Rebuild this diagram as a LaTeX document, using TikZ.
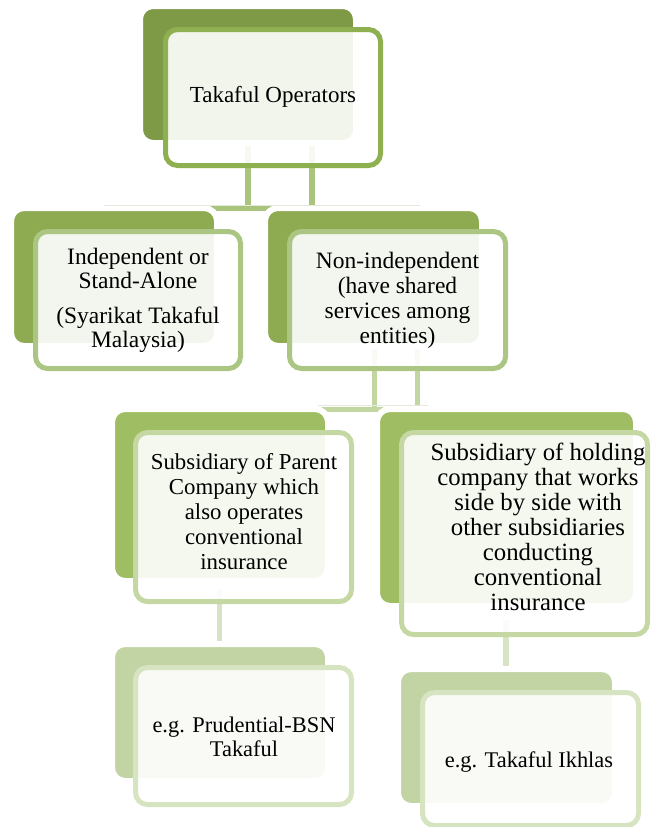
\documentclass[tikz,border=0pt]{standalone}
\usepackage{fontspec}
\setmainfont{Liberation Serif}
\definecolor{backA}{HTML}{7E9A47}
\definecolor{lineA}{HTML}{8FB051}
\definecolor{backB}{HTML}{8EAB52}
\definecolor{lineB}{HTML}{ABC682}
\definecolor{backC}{HTML}{9FBD62}
\definecolor{lineC}{HTML}{C5D8A3}
\definecolor{backD}{HTML}{C2D4A4}
\definecolor{lineD}{HTML}{D7E4C2}
\definecolor{connA}{HTML}{A9C47C}
\definecolor{connB}{HTML}{C2D6A2}
\definecolor{connC}{HTML}{D6E3C4}
\definecolor{ghost}{HTML}{E4E9DB}
\begin{document}
\begin{tikzpicture}[x=1pt,y=-1pt,
  backbox/.style={rectangle, rounded corners=13pt, inner sep=0pt, draw=white, line width=6pt, fill=#1},
  frontbox/.style={rectangle, rounded corners=12pt, inner sep=0pt, draw=#1, line width=5pt, fill=white, fill opacity=0.9},
  conn/.style={line width=5.5pt, draw=#1},
  ghostline/.style={line width=0.8pt, draw=ghost},
  lbl/.style={align=center, text=black, inner sep=0pt}]
\useasboundingbox (0,0) rectangle (652,827);

% connector anchor points
\coordinate (a1) at (248,130);
\coordinate (a2) at (248,208);
\coordinate (a3) at (312,130);
\coordinate (a4) at (312,208);
\coordinate (h1) at (104,208);
\coordinate (h2) at (420,208);
\coordinate (b1) at (374.5,345);
\coordinate (b2) at (374.5,409.5);
\coordinate (b3) at (417.5,345);
\coordinate (b4) at (417.5,409.5);
\coordinate (k1) at (230,409.5);
\coordinate (k2) at (520,409.5);
\coordinate (c1) at (219.5,590);
\coordinate (c2) at (219.5,650);
\coordinate (c3) at (506,620);
\coordinate (c4) at (506,675);

% connectors
\draw[conn=connA] (a1) -- (a2);
\draw[conn=connA] (a3) -- (a4);
\draw[conn=connA] (h1) -- (h2);
\draw[conn=connB] (b1) -- (b2);
\draw[conn=connB] (b3) -- (b4);
\draw[conn=connB] (k1) -- (k2);
\draw[conn=connC] (c1) -- (c2);
\draw[conn=connC] (c3) -- (c4);

% back boxes (white halo of 3pt outside the visible green)
\node[backbox=backA, minimum width=216pt, minimum height=137pt] (r1b) at (248,74.5) {};
\node[backbox=backB, minimum width=206pt, minimum height=138pt] (l2b) at (114,277) {};
\node[backbox=backB, minimum width=217pt, minimum height=138pt] (m2b) at (373.5,277) {};
\node[backbox=backC, minimum width=216pt, minimum height=172pt] (l3b) at (220,495) {};
\node[backbox=backC, minimum width=259pt, minimum height=197pt] (m3b) at (506.5,507.5) {};
\node[backbox=backD, minimum width=216pt, minimum height=137pt] (l4b) at (220,712.5) {};
\node[backbox=backD, minimum width=217pt, minimum height=137pt] (m4b) at (506.5,737.5) {};

% faint residue lines
\coordinate (g1) at (104,205.5);
\coordinate (g2) at (420,205.5);
\coordinate (g3) at (318,405.5);
\coordinate (g4) at (428,405.5);
\draw[ghostline] (g1) -- (g2);
\draw[ghostline] (g3) -- (g4);

% front boxes
\node[frontbox=lineA, minimum width=215pt, minimum height=136pt] (r1f) at (273,97.5) {};
\node[frontbox=lineB, minimum width=205pt, minimum height=137pt] (l2f) at (138,300) {};
\node[frontbox=lineB, minimum width=216pt, minimum height=137pt] (m2f) at (397.5,300) {};
\node[frontbox=lineC, minimum width=216pt, minimum height=169pt] (l3f) at (243.5,517) {};
\node[frontbox=lineC, minimum width=246pt, minimum height=202pt] (m3f) at (524.5,533.5) {};
\node[frontbox=lineD, minimum width=216pt, minimum height=137pt] (l4f) at (243.5,736) {};
\node[frontbox=lineD, minimum width=216pt, minimum height=133pt] (m4f) at (530.5,759) {};

% texts
\node[lbl, font=\fontsize{23}{25}\selectfont] (t1) at (273,97) {Takaful Operators};
\node[lbl, font=\fontsize{23.5}{24}\selectfont] (t2) at (138,300) {Independent or\\Stand-Alone\\[11pt](Syarikat Takaful\\Malaysia)};
\node[lbl, font=\fontsize{23.5}{25}\selectfont] (t3) at (397.5,300) {Non-independent\\(have shared\\services among\\entities)};
\node[lbl, font=\fontsize{22.8}{25}\selectfont] (t4) at (244,512) {Subsidiary of Parent\\Company which\\also operates\\conventional\\insurance};
\node[lbl, font=\fontsize{24.8}{25}\selectfont] (t5) at (538,527) {Subsidiary of holding\\company that works\\side by side with\\other subsidiaries\\conducting\\conventional\\insurance};
\node[lbl, font=\fontsize{22.4}{23.5}\selectfont] (t6) at (244,737) {e.g. Prudential-BSN\\Takaful};
\node[lbl, font=\fontsize{22.4}{24}\selectfont] (t7) at (529,762) {e.g. Takaful Ikhlas};
\end{tikzpicture}
\end{document}
